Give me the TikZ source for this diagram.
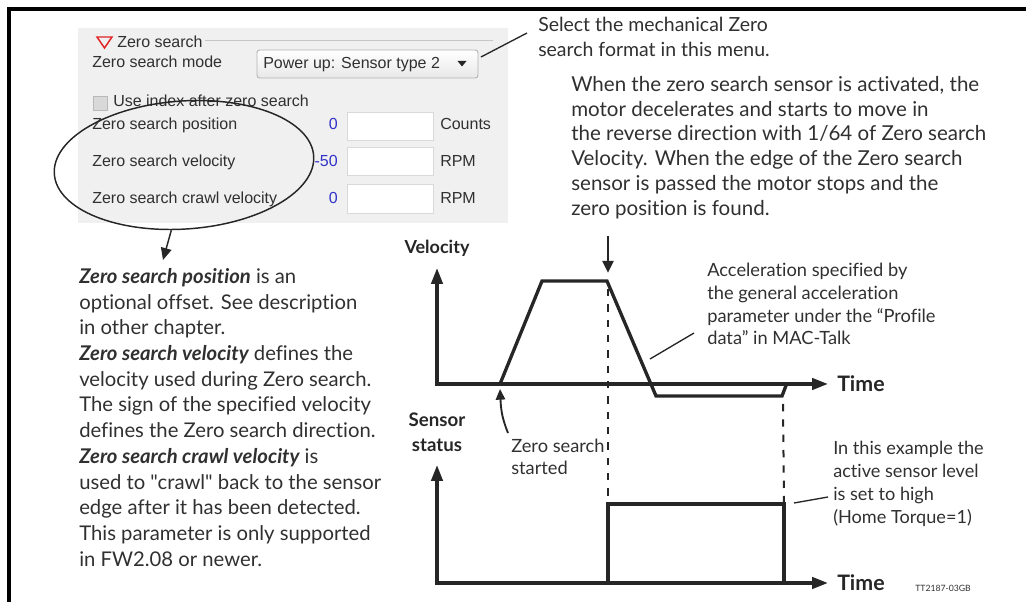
\documentclass[tikz,border=0pt]{standalone}
\usepackage{fontspec}
\setmainfont{Lato}[Ligatures={TeXOff,CommonOff}]
\newfontfamily\guifont{Liberation Sans}
\usetikzlibrary{shapes.geometric,arrows.meta,positioning}
\definecolor{ink}{RGB}{38,38,38}
\definecolor{txt}{RGB}{48,48,48}
\definecolor{panel}{RGB}{240,240,240}
\definecolor{guiblue}{RGB}{50,50,200}
\definecolor{guired}{RGB}{225,35,35}

\begin{document}
\begin{tikzpicture}[x=0.75pt, y=-0.75pt,
    axis/.style={line width=2.5pt, ink, line join=miter,
        {Triangle[length=12pt,width=8.5pt]}-{Triangle[length=12pt,width=8.5pt]}},
    curve/.style={line width=2.5pt, ink, line join=miter},
    guide/.style={line width=1.5pt, ink, dash pattern=on 5.5pt off 6pt},
    leader/.style={line width=1pt, ink},
    pointer/.style={line width=1.4pt, ink, -{Triangle[length=8pt,width=7pt]}},
    guitext/.style={font=\guifont\fontsize{12}{14}\selectfont, text=txt, inner sep=0pt, anchor=base west},
    guival/.style={guitext, text=guiblue, anchor=base east},
    field/.style={draw=gray!30, fill=white, line width=0.6pt},
    note/.style={align=left, inner sep=0pt, anchor=north west, text=txt},
    label/.style={font=\bfseries\fontsize{13.5}{18}\selectfont, text=ink, inner sep=0pt, align=center}]

    \useasboundingbox (0,0) rectangle (1026,602);

    % --- Frame ---
    \draw[line width=3pt, line join=miter] (1026,9) -- (9,9) -- (9,602);

    % --- Settings panel (screen shot) ---
    \fill[panel] (78,28) rectangle (508,223);
    \draw[guired, line width=1.1pt, line join=miter] (97,37) -- (112,37) -- (104.5,48) -- cycle;
    \node[guitext] (grp) at (117,48) {Zero search};
    \draw[gray!45, line width=0.6pt] (205,40) -- (493,40);

    \node[guitext] (mode) at (92,68) {Zero search mode};
    \shade[top color=white, bottom color=gray!18, draw=gray!60, rounded corners=2pt, line width=0.7pt]
        (257,50) rectangle (478,78);
    \node[guitext] (menu) at (263,69) {Power up: Sensor type 2};
    \fill[ink] (457.5,61) -- (466.5,61) -- (462,66.5) -- cycle;
    \coordinate (menuend) at (481,57);

    \fill[gray!30, draw=gray!55, line width=0.6pt] (93,96) rectangle (107,110);
    \node[guitext] (useidx) at (113,107) {Use index after zero search};

    % rows: label, value, field, unit
    \node[guitext] (rowpos) at (92,130) {Zero search position};
    \node[guival]  (valpos) at (338,130) {0};
    \draw[field] (347,112) rectangle (433,140);
    \node[guitext] (unitpos) at (440,130) {Counts};

    \node[guitext] (rowvel) at (92,167) {Zero search velocity};
    \node[guival]  (valvel) at (338,167) {-50};
    \draw[field] (347,147) rectangle (433,175);
    \node[guitext] (unitvel) at (440,167) {RPM};

    \node[guitext] (rowcrawl) at (92,204) {Zero search crawl velocity};
    \node[guival]  (valcrawl) at (338,204) {0};
    \draw[field] (347,184) rectangle (433,213);
    \node[guitext] (unitcrawl) at (440,204) {RPM};

    % --- Ring round the three values and its pointer ---
    \node[draw=ink, line width=1.1pt, ellipse, inner sep=0pt, minimum width=195pt,
        minimum height=96pt, rotate=4] (ring) at (184,165) {};
    \coordinate (ringtip) at (163,260);
    \draw[pointer, line width=1.1pt, -{Triangle[length=9pt,width=8pt]}] (ring.255) -- (ringtip);

    % --- Notes ---
    \node[note, font=\fontsize{15.2}{19.3}\selectfont] (parnote) at (79,268) {%
        {\bfseries\itshape Zero search position} is an\\
        optional offset. See description\\
        in other chapter.\\
        {\bfseries\itshape Zero search velocity} defines the\\
        velocity used during Zero search.\\
        The sign of the specified velocity\\
        defines the Zero search direction.\\
        {\bfseries\itshape Zero search crawl velocity} is\\
        used to "crawl" back to the sensor\\
        edge after it has been detected.\\
        This parameter is only supported\\
        in FW2.08 or newer.};

    \node[note, font=\fontsize{14.6}{18.8}\selectfont] (selnote) at (538,17) {%
        Select the mechanical Zero\\
        search format in this menu.};
    \draw[leader] (menuend) -- (527,33);

    \node[note, font=\fontsize{15.4}{18.6}\selectfont] (sensnote) at (571,76) {%
        When the zero search sensor is activated, the\\
        motor decelerates and starts to move in\\
        the reverse direction with 1/64 of Zero search\\
        Velocity. When the edge of the Zero search\\
        sensor is passed the motor stops and the\\
        zero position is found.};

    % --- Velocity graph ---
    \coordinate (v0) at (437,384);
    \coordinate (vtop) at (437,268);
    \coordinate (vend) at (828,384);
    \draw[axis] (vtop) -- (v0) -- (vend);
    \node[label] (vlab) at (437,248) {Velocity};
    \node[label, font=\bfseries\fontsize{16}{18}\selectfont, anchor=west] (tlab) at (837,384) {Time};

    \coordinate (p1) at (500,384);
    \coordinate (p2) at (542,281);
    \coordinate (p3) at (607,281);
    \coordinate (p4) at (656,396);
    \coordinate (p5) at (782,396);
    \coordinate (p6) at (787,383);
    \draw[curve] (p1) -- (p2) -- (p3) -- (p4) -- (p5) -- (p6);

    \coordinate (hit) at (608,236);
    \draw[curve, line width=2.2pt, -{Triangle[length=9pt,width=8pt]}] (hit) -- (608,273);

    \node[note, font=\fontsize{13.7}{17}\selectfont] (accnote) at (707,263) {%
        Acceleration specified by\\
        the general acceleration\\
        parameter under the “Profile\\
        data” in MAC-Talk};
    \draw[leader] (650,359) -- (694,333);

    % --- Sensor graph ---
    \coordinate (s0) at (437,583);
    \coordinate (stop) at (437,465);
    \coordinate (send) at (828,583);
    \draw[axis] (stop) -- (s0) -- (send);
    \node[label, font=\bfseries\fontsize{14}{18.7}\selectfont] (slab) at (437,432) {Sensor\\status};
    \node[label, font=\bfseries\fontsize{16}{18}\selectfont, anchor=west] (tlab2) at (837,583) {Time};

    \coordinate (q1) at (608,583);
    \coordinate (q2) at (608,504);
    \coordinate (q3) at (784,504);
    \coordinate (q4) at (784,583);
    \draw[curve] (q1) -- (q2) -- (q3) -- (q4);

    \draw[guide] (608,289) -- (q2);
    \draw[guide] (783,404) -- (q3);

    \node[note, font=\fontsize{13.7}{16.3}\selectfont] (startnote) at (511,439) {%
        Zero search\\
        started};
    \coordinate (starttail) at (508,433);
    \draw[pointer] (starttail) .. controls (502,418) and (501,410) .. (500,389);

    \node[note, font=\fontsize{13.6}{17.3}\selectfont] (levelnote) at (833,441) {%
        In this example the\\
        active sensor level\\
        is set to high\\
        (Home Torque=1)};
    \draw[leader] (794,503) -- (828,497);

    \node[font=\fontsize{6.5}{8}\selectfont, text=txt, anchor=west, inner sep=0pt] (code) at (915,588) {TT2187-03GB};

\end{tikzpicture}
\end{document}
